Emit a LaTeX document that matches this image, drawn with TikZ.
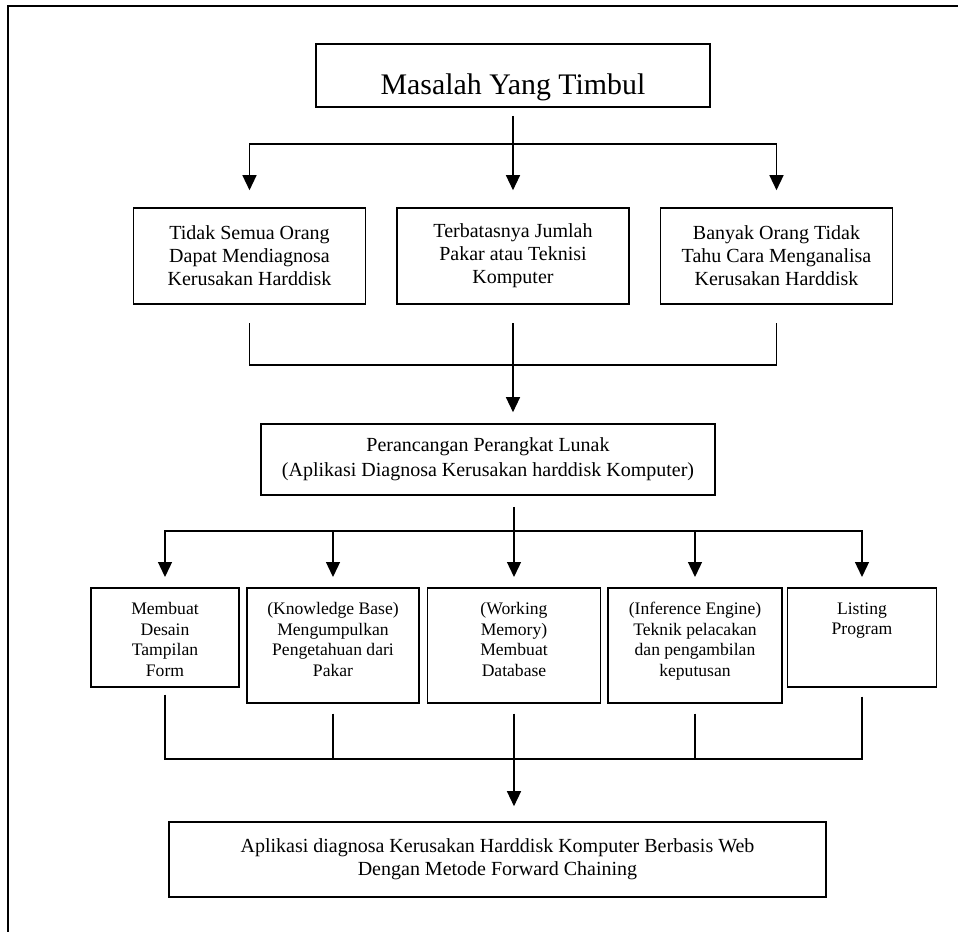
\documentclass[tikz,border=0pt]{standalone}
\usepackage{fontspec}
\setmainfont{Liberation Serif}
\usepackage{tikz}
\usetikzlibrary{arrows.meta}
\tikzstyle{ndtop} = [draw, line width=1.2pt, shape=rectangle, minimum width=295.5pt, minimum height=47.25pt, inner sep=0pt, font=\fontsize{22.4pt}{26pt}\selectfont]
\tikzstyle{ndrow} = [draw, line width=1.2pt, shape=rectangle, minimum width=174pt, minimum height=72pt, inner sep=0pt, align=center, font=\fontsize{15pt}{17.25pt}\selectfont]
\tikzstyle{ndwide} = [draw, line width=1.2pt, shape=rectangle, inner sep=0pt, align=center, font=\fontsize{15pt}{18.75pt}\selectfont]
\tikzstyle{ndsub} = [draw, line width=1.2pt, shape=rectangle, inner sep=0pt, anchor=north, font=\fontsize{13.2pt}{15.4pt}\selectfont]
\tikzstyle{frm} = [line width=1.5pt]
\tikzstyle{ln} = [line width=1pt]
\tikzstyle{arw} = [style={-{Triangle[length=11.25pt,width=10.5pt]}, line width=1pt}]
\newcommand{\subtext}[3]{\parbox[c][#2][t]{#1}{\centering\vspace*{11pt}#3}}

\begin{document}
\begin{tikzpicture}[x=0.75pt, y=-0.75pt]
        \useasboundingbox (0,0) rectangle (958,932);
        \draw[frm] (958,6) -- (8,6) -- (8,932);
        \node[ndtop] (masalah) at (513,75.5) {\raisebox{-14.6pt}[0pt][0pt]{Masalah Yang Timbul}};
        \node[ndrow] (tidak) at (249.5,256) {Tidak Semua Orang\\Dapat Mendiagnosa\\Kerusakan Harddisk};
        \node[ndrow] (terbatas) at (513,256) {Terbatasnya Jumlah\\Pakar atau Teknisi\\Komputer};
        \node[ndrow] (banyak) at (776.5,256) {Banyak Orang Tidak\\Tahu Cara Menganalisa\\Kerusakan Harddisk};
        \node[ndwide, minimum width=340.5pt, minimum height=53.25pt] (rancang) at (488,459.5) {Perancangan Perangkat Lunak\\(Aplikasi Diagnosa Kerusakan harddisk Komputer)};
        \node[ndsub] (form) at (165,587) {\subtext{111pt}{74.25pt}{Membuat\\Desain\\Tampilan\\Form}};
        \node[ndsub] (pakar) at (333,587) {\subtext{129pt}{86.25pt}{(Knowledge Base)\\Mengumpulkan\\Pengetahuan dari\\Pakar}};
        \node[ndsub] (memori) at (514,587) {\subtext{129.75pt}{86.25pt}{(Working\\Memory)\\Membuat\\Database}};
        \node[ndsub] (inferensi) at (695,587) {\subtext{130.5pt}{86.25pt}{(Inference Engine)\\Teknik pelacakan\\dan pengambilan\\keputusan}};
        \node[ndsub] (listing) at (862,587) {\subtext{111.75pt}{74.25pt}{Listing\\Program}};
        \node[ndwide, font=\fontsize{15pt}{17.25pt}\selectfont, minimum width=492.75pt, minimum height=56.25pt] (aplikasi) at (497.5,859.5) {Aplikasi diagnosa Kerusakan Harddisk Komputer Berbasis Web\\Dengan Metode Forward Chaining};
        \coordinate (j1) at (513,144);
        \coordinate (j2) at (513,365);
        \coordinate (j3) at (514,531);
        \coordinate (j4) at (514,759);
        % masalah -> tiga sebab
        \draw[ln, shorten <=6pt] (masalah) -- (j1);
        \draw[arw, shorten >=12.75pt] (j1) -| (tidak);
        \draw[arw, shorten >=12.75pt] (j1) -- (terbatas);
        \draw[arw, shorten >=12.75pt] (j1) -| (banyak);
        % tiga sebab -> perancangan
        \draw[ln, shorten <=13.9pt] (tidak) |- (j2);
        \draw[ln, shorten <=13.9pt] (banyak) |- (j2);
        \draw[arw, shorten <=13.9pt, shorten >=8.25pt] (terbatas) -- (terbatas |- rancang.north);
        % perancangan -> lima tahap
        \draw[arw, shorten <=8.25pt, shorten >=7.5pt] (rancang.south -| memori) -- (memori);
        \draw[arw, shorten >=7.5pt] (j3) -| (form);
        \draw[arw, shorten >=7.5pt] (j3) -| (pakar);
        \draw[arw, shorten >=7.5pt] (j3) -| (inferensi);
        \draw[arw, shorten >=7.5pt] (j3) -| (listing);
        % lima tahap -> aplikasi
        \draw[ln, shorten <=5.25pt] (form) |- (j4);
        \draw[ln, shorten <=7.5pt] (pakar) |- (j4);
        \draw[ln, shorten <=7.5pt] (inferensi) |- (j4);
        \draw[ln, shorten <=6.75pt] (listing) |- (j4);
        \draw[arw, shorten <=7.5pt, shorten >=11.25pt] (memori) -- (memori |- aplikasi.north);
      \end{tikzpicture}
\end{document}
